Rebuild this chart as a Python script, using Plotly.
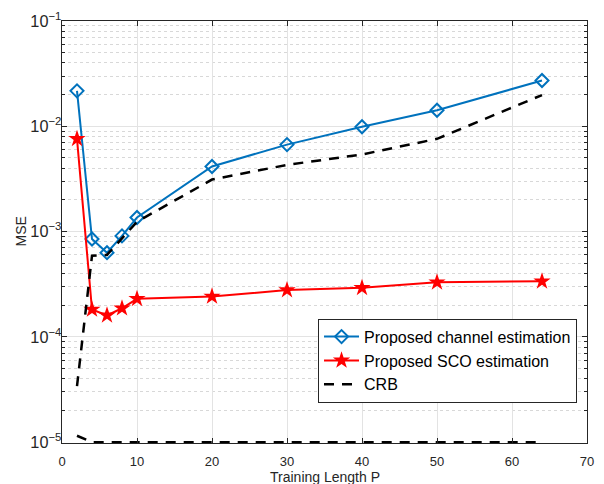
import plotly.graph_objects as go

# ---- data ----
P = [2, 4, 6, 8, 10, 20, 30, 40, 50, 64]
mse_channel = [0.0217, 8.5e-4, 6.3e-4, 9.1e-4, 1.36e-3, 4.15e-3, 6.7e-3, 9.9e-3, 1.42e-2, 2.72e-2]
mse_sco = [7.6e-3, 1.82e-4, 1.60e-4, 1.87e-4, 2.30e-4, 2.42e-4, 2.78e-4, 2.92e-4, 3.30e-4, 3.37e-4]
crb_channel = [3.4e-5, 5.9e-4, 6.0e-4, 8.6e-4, 1.24e-3, 3.12e-3, 4.3e-3, 5.4e-3, 7.6e-3, 1.98e-2]
crb_sco = [1.15e-5, 1.0e-5, 1.0e-5, 1.0e-5, 1.0e-5, 1.0e-5, 1.0e-5, 1.0e-5, 1.0e-5, 1.0e-5]

x_title = "Training Length P"
y_title = "MSE"

FONT = "Liberation Sans, Arial, Helvetica, sans-serif"
AX = "#262626"
BLUE = "#0072BD"
RED = "#FF0000"

fig = go.Figure()
fig.add_trace(go.Scatter(
    x=P, y=mse_channel, mode="lines+markers", name="Proposed channel estimation",
    line=dict(color=BLUE, width=2),
    marker=dict(symbol="diamond-open", size=10, color=BLUE, line=dict(width=2, color=BLUE)),
))
fig.add_trace(go.Scatter(
    x=P, y=mse_sco, mode="lines+markers", name="Proposed SCO estimation",
    line=dict(color=RED, width=2),
    marker=dict(symbol="star", size=13, color=RED, line=dict(width=0)),
))
fig.add_trace(go.Scatter(
    x=P, y=crb_channel, mode="lines", name="CRB",
    line=dict(color="black", width=2.5, dash="10px,8px"),
))
fig.add_trace(go.Scatter(
    x=P, y=crb_sco, mode="lines", name="CRB", showlegend=False,
    line=dict(color="black", width=2.5, dash="10px,8px"),
))

fig.update_layout(
    width=604, height=484,
    margin=dict(l=62, r=10, t=11, b=41),
    paper_bgcolor="white", plot_bgcolor="white",
    font=dict(family=FONT, size=13, color=AX),
    showlegend=True,
    legend=dict(
        x=0.981, y=0.195, xanchor="right", yanchor="middle",
        bgcolor="white", bordercolor=AX, borderwidth=1,
        font=dict(family=FONT, size=16, color="black"),
        tracegroupgap=0, itemwidth=35,
    ),
    annotations=[
        dict(text=x_title, xref="paper", yref="paper", x=0.5, y=-0.0806,
             xanchor="center", yanchor="middle", showarrow=False,
             font=dict(family=FONT, size=14, color=AX)),
        dict(text=y_title, xref="paper", yref="paper", x=-0.079, y=0.5,
             xanchor="center", yanchor="middle", showarrow=False, textangle=-90,
             font=dict(family=FONT, size=14, color=AX)),
    ],
)
fig.update_xaxes(
    range=[0, 70], dtick=10, tick0=0,
    showline=True, linecolor=AX, linewidth=1, mirror="allticks",
    ticks="inside", ticklen=5, tickcolor=AX,
    showgrid=True, gridcolor="#e3e3e3", gridwidth=1,
    zeroline=False, ticklabeloverflow="allow", ticklabelstandoff=6,
    tickfont=dict(family=FONT, size=13, color=AX),
)
fig.update_yaxes(
    type="log", range=[-5.008, -1], dtick=1,
    exponentformat="power", showexponent="all",
    showline=True, linecolor=AX, linewidth=1, mirror="allticks",
    ticks="inside", ticklen=5, tickcolor=AX,
    showgrid=True, gridcolor="#e3e3e3", gridwidth=1,
    minor=dict(ticks="inside", ticklen=3, tickcolor=AX, showgrid=True,
               gridcolor="#d8d8d8", griddash="dot", gridwidth=1),
    zeroline=False, ticklabeloverflow="allow", ticklabelstandoff=-3,
    tickfont=dict(family=FONT, size=13, color=AX),
)

fig.write_html("out.html", config={"displayModeBar": False})

# remove the browser's default page margin so the figure fills the window exactly
with open("out.html", "r", encoding="utf-8") as f:
    html = f.read()
html = html.replace("<head>", "<head><style>html,body{margin:0;padding:0;overflow:hidden;}</style>", 1)
with open("out.html", "w", encoding="utf-8") as f:
    f.write(html)
